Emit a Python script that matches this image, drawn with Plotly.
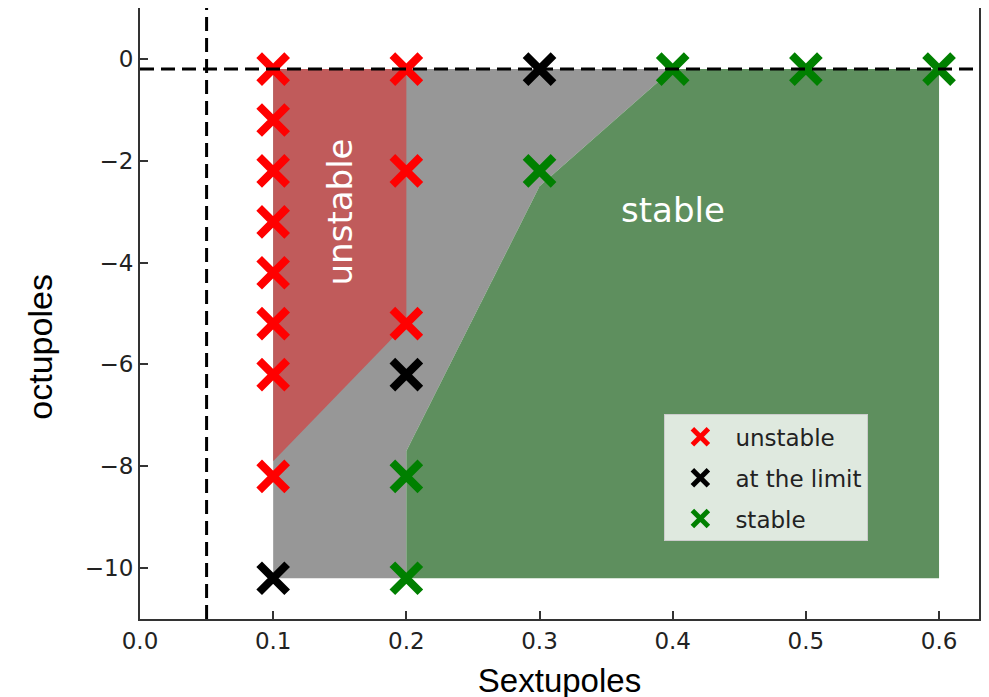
import plotly.graph_objects as go

# ------------------------------------------------------------
# Data
# ------------------------------------------------------------

unstable_x = [0.1, 0.1, 0.1, 0.1, 0.1, 0.1, 0.1, 0.1, 0.2, 0.2, 0.2]
unstable_y = [-0.2, -1.2, -2.2, -3.2, -4.2, -5.2, -6.2, -8.2, -0.2, -2.2, -5.2]

limit_x = [0.1, 0.2, 0.3]
limit_y = [-10.2, -6.2, -0.2]

stable_x = [0.2, 0.2, 0.3, 0.4, 0.5, 0.6]
stable_y = [-8.2, -10.2, -2.2, -0.2, -0.2, -0.2]

# region outlines
gray_x = [0.1, 0.4, 0.3, 0.2, 0.2, 0.1]
gray_y = [-0.2, -0.2, -2.5, -7.7, -10.2, -10.2]

red_x = [0.1, 0.2, 0.2, 0.1]
red_y = [-0.2, -0.2, -5.2, -7.9]

green_x = [0.4, 0.6, 0.6, 0.2, 0.2, 0.3]
green_y = [-0.2, -0.2, -10.2, -10.2, -7.7, -2.5]

h_line_y = -0.2
v_line_x = 0.05

x_ticks = [0.0, 0.1, 0.2, 0.3, 0.4, 0.5, 0.6]
y_ticks = [0, -2, -4, -6, -8, -10]

# ------------------------------------------------------------
# Figure
# ------------------------------------------------------------

fig = go.Figure()

for xs, ys, col in [
    (gray_x, gray_y, "#979797"),
    (red_x, red_y, "#c05b5b"),
    (green_x, green_y, "#5e8f5e"),
]:
    fig.add_trace(go.Scatter(
        x=xs, y=ys, fill="toself", fillcolor=col,
        mode="lines", line=dict(width=0), showlegend=False, hoverinfo="skip"
    ))

for xs, ys, col, name in [
    (unstable_x, unstable_y, "#ff0000", "unstable"),
    (limit_x, limit_y, "#000000", "at the limit"),
    (stable_x, stable_y, "#008000", "stable"),
]:
    fig.add_trace(go.Scatter(
        x=xs, y=ys, mode="markers", name=name, legendgroup=name,
        marker=dict(symbol="x-thin", size=28, line=dict(width=8, color=col), color=col)
    ))

fig.add_shape(type="line", xref="paper", yref="y", x0=0, x1=1,
              y0=h_line_y, y1=h_line_y,
              line=dict(color="black", width=3, dash="14px,7px"))
fig.add_shape(type="line", xref="x", yref="paper", x0=v_line_x, x1=v_line_x,
              y0=0, y1=1,
              line=dict(color="black", width=3, dash="14px,7px"))

fig.add_annotation(x=0.15, y=-3.0, text="unstable", showarrow=False, textangle=-90,
                   font=dict(family="DejaVu Sans", size=34, color="white"))
fig.add_annotation(x=0.4, y=-2.96, text="stable", showarrow=False,
                   font=dict(family="DejaVu Sans", size=34, color="white"))

# y title placed by hand (sits a little below the axis centre in the original)
fig.add_annotation(xref="paper", yref="paper", x=-0.119, y=0.446,
                   xanchor="center", yanchor="middle",
                   text="octupoles", showarrow=False, textangle=-90,
                   font=dict(family="Liberation Sans", size=34, color="black"))

fig.update_xaxes(
    range=[0, 0.63], tickvals=x_ticks, tickformat=".1f",
    ticks="inside", ticklen=8, tickwidth=1.5, tickcolor="#333",
    showline=True, linecolor="#333", linewidth=2, mirror=True,
    showgrid=False, zeroline=False, automargin=False,
    tickfont=dict(family="DejaVu Sans", size=23, color="#222"),
    title=dict(text="Sextupoles", font=dict(family="Liberation Sans", size=33, color="black"),
               standoff=16)
)
fig.update_yaxes(
    range=[-11, 1], tickvals=y_ticks,
    ticks="inside", ticklen=8, tickwidth=1.5, tickcolor="#333",
    showline=True, linecolor="#333", linewidth=2, mirror=True,
    showgrid=False, zeroline=False, automargin=False,
    tickfont=dict(family="DejaVu Sans", size=23, color="#222"),
)

# page body adds ~8px offset, margins compensate for it
fig.update_layout(
    width=989, height=697,
    margin=dict(l=132, r=18, t=0, b=86),
    plot_bgcolor="white", paper_bgcolor="white",
    legend=dict(
        x=0.625, y=0.335, xanchor="left", yanchor="top",
        bgcolor="rgba(255,255,255,0.8)", bordercolor="#cccccc", borderwidth=1,
        font=dict(family="DejaVu Sans", size=23, color="#222"),
        itemwidth=60, tracegroupgap=8, traceorder="grouped"
    ),
)

fig.write_html("out.html")
